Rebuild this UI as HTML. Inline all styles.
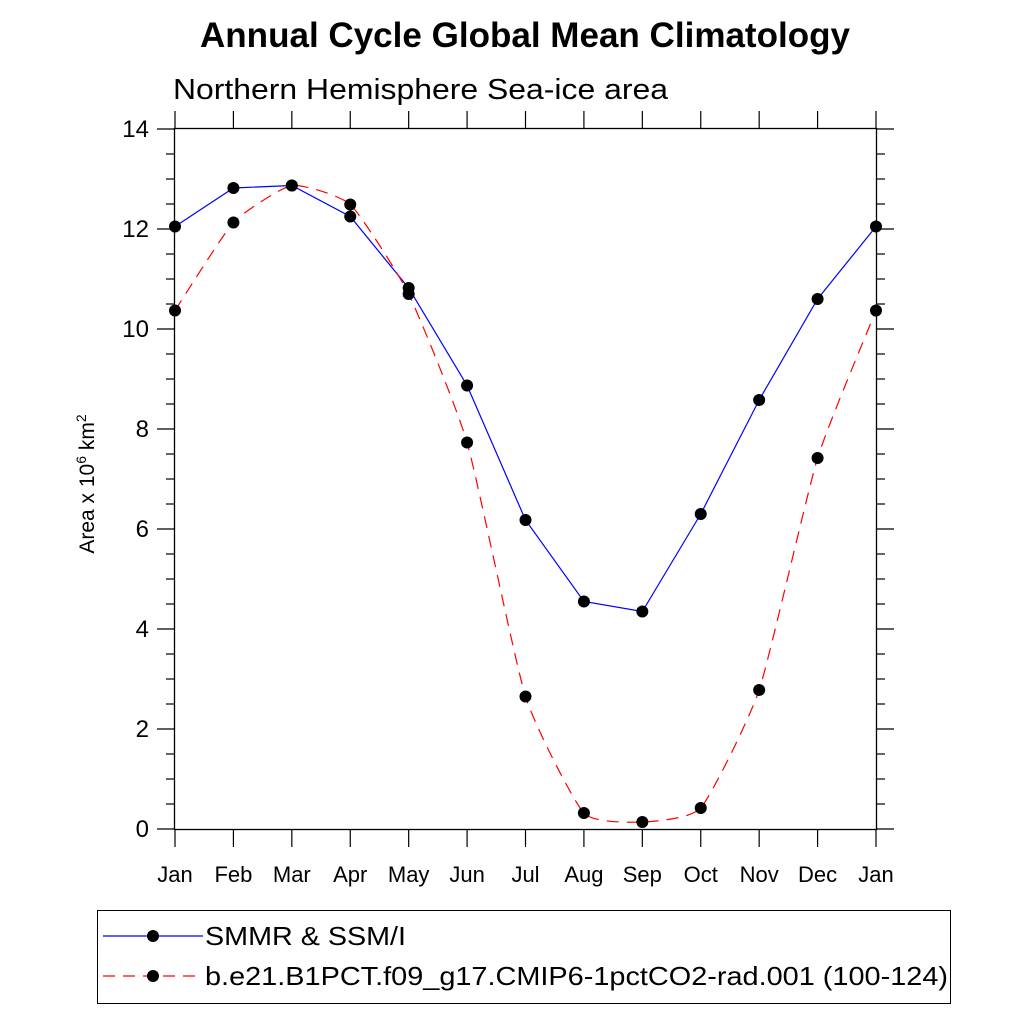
<!DOCTYPE html>
<html><head><meta charset="utf-8"><style>
body{margin:0;background:#fff}
svg text{font-family:"Liberation Sans",sans-serif}
</style></head><body>
<svg id="c" width="1024" height="1024" xmlns="http://www.w3.org/2000/svg">
<text x="525" y="47" text-anchor="middle" font-size="35" font-weight="bold" textLength="650" lengthAdjust="spacingAndGlyphs">Annual Cycle Global Mean Climatology</text>
<text x="173" y="99" font-size="29" textLength="495" lengthAdjust="spacingAndGlyphs">Northern Hemisphere Sea-ice area</text>
<text transform="translate(94,484) rotate(-90)" text-anchor="middle" font-size="21">Area x 10<tspan dy="-8" font-size="14">6</tspan><tspan dy="8"> km</tspan><tspan dy="-8" font-size="14">2</tspan></text>
<g id="axes"></g><g id="series"></g>
<g>
<rect x="97.5" y="910.5" width="853" height="93" fill="none" stroke="#000" stroke-width="1"/>
<line x1="103" y1="936" x2="203" y2="936" stroke="#00f" stroke-width="1.2"/>
<circle cx="153" cy="936" r="6" fill="#000"/>
<text x="205" y="945" font-size="26" textLength="201" lengthAdjust="spacingAndGlyphs">SMMR &amp; SSM/I</text>
<line x1="103" y1="976" x2="203" y2="976" stroke="#f00" stroke-width="1.2" stroke-dasharray="12,8"/>
<circle cx="153" cy="976" r="6" fill="#000"/>
<text x="205" y="985" font-size="26" textLength="743" lengthAdjust="spacingAndGlyphs">b.e21.B1PCT.f09_g17.CMIP6-1pctCO2-rad.001 (100-124)</text>
</g>
</svg>
<script>
const months=["Jan","Feb","Mar","Apr","May","Jun","Jul","Aug","Sep","Oct","Nov","Dec","Jan"];
const obsValues=[12.05,12.82,12.87,12.25,10.82,8.87,6.18,4.55,4.35,6.30,8.58,10.60,12.05];
const modelValues=[10.37,12.13,12.87,12.49,10.70,7.73,2.65,0.32,0.14,0.42,2.78,7.42,10.37];
const yTicks=[0,2,4,6,8,10,12,14];
const X0=175,X1=876,Y0=829,Y1=129,YMAX=14;
const xs=i=>X0+(X1-X0)*i/(months.length-1);
const ys=v=>Y0-(Y0-Y1)*v/YMAX;
const NS="http://www.w3.org/2000/svg";
const ax=document.getElementById('axes'),se=document.getElementById('series');
function el(p,t,a){const e=document.createElementNS(NS,t);for(const k in a)e.setAttribute(k,a[k]);p.appendChild(e);return e;}
el(ax,'rect',{x:X0-0.5,y:Y1-0.5,width:X1-X0+1,height:Y0-Y1+1,fill:'none',stroke:'#000','stroke-width':1.3});
for(let v=0;v<=YMAX+0.001;v+=0.5){const y=ys(v),maj=Math.abs(v%2)<0.001,L=maj?18:9;
 el(ax,'line',{x1:X0-L,y1:y,x2:X0,y2:y,stroke:'#000','stroke-width':1.2});
 el(ax,'line',{x1:X1,y1:y,x2:X1+L,y2:y,stroke:'#000','stroke-width':1.2});}
yTicks.forEach(v=>{const t=el(ax,'text',{x:X0-26,y:ys(v)+8,'text-anchor':'end','font-size':24});t.textContent=v;

});
months.forEach((m,i)=>{const x=xs(i);
 el(ax,'line',{x1:x,y1:Y0,x2:x,y2:Y0+18,stroke:'#000','stroke-width':1.2});
 el(ax,'line',{x1:x,y1:Y1,x2:x,y2:Y1-18,stroke:'#000','stroke-width':1.2});
 const t=el(ax,'text',{x:x,y:882,'text-anchor':'middle','font-size':22});t.textContent=m;
 
 });
const bp=el(se,'polyline',{points:obsValues.map((v,i)=>xs(i)+','+ys(v)).join(' '),fill:'none',stroke:'#00f','stroke-width':1.2});


const P=modelValues.map((v,i)=>[xs(i),ys(v)]);
const K=12;
let d='M'+P[0][0]+','+P[0][1];
for(let i=0;i<P.length-1;i++){const p0=P[Math.max(0,i-1)],p1=P[i],p2=P[i+1],p3=P[Math.min(P.length-1,i+2)];
 d+=' C'+(p1[0]+(p2[0]-p0[0])/K)+','+(p1[1]+(p2[1]-p0[1])/K)+' '+(p2[0]-(p3[0]-p1[0])/K)+','+(p2[1]-(p3[1]-p1[1])/K)+' '+p2[0]+','+p2[1];}
const rp=el(se,'path',{d:d,fill:'none',stroke:'#f00','stroke-width':1.2,'stroke-dasharray':'12,8'});


obsValues.forEach((v,i)=>{const c=el(se,'circle',{cx:xs(i),cy:ys(v),r:6,fill:'#000'});

});
modelValues.forEach((v,i)=>{const c=el(se,'circle',{cx:xs(i),cy:ys(v),r:6,fill:'#000'});

});
</script>
</body></html>
